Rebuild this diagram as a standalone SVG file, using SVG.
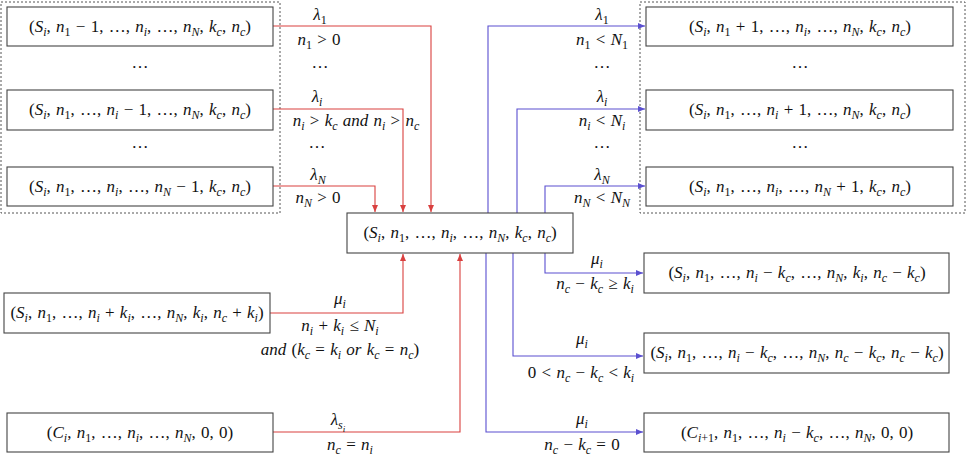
<svg xmlns="http://www.w3.org/2000/svg" width="966" height="460" viewBox="0 0 966 460">
<style>
text{font-family:"Liberation Serif","DejaVu Serif",serif;font-size:17px;fill:#111;text-anchor:middle;word-spacing:1px}
.i{font-style:italic}
.b{font-size:12px;baseline-shift:-3.5px}
.bi{font-size:12px;baseline-shift:-3.5px;font-style:italic}
.bb{font-size:9px;baseline-shift:-7px;font-style:italic}
.box{fill:#fff;stroke:#444;stroke-width:1.1}
.grp{fill:none;stroke:#555;stroke-width:1;stroke-dasharray:2 2}
.r{fill:none;stroke:#d9403f;stroke-width:1.1}
.u{fill:none;stroke:#5a4fd0;stroke-width:1.1}
</style>
<defs>
<marker id="ar" markerUnits="userSpaceOnUse" markerWidth="8" markerHeight="8" refX="7" refY="3" orient="auto"><path d="M0,0 L7,3 L0,6 Z" fill="#d9403f"/></marker>
<marker id="au" markerUnits="userSpaceOnUse" markerWidth="8" markerHeight="8" refX="7" refY="3" orient="auto"><path d="M0,0 L7,3 L0,6 Z" fill="#5a4fd0"/></marker>
</defs>

<rect class="grp" x="1" y="2" width="279" height="211"/>
<rect class="grp" x="640" y="2" width="325" height="211"/>

<g id="connectors">
<path class="r" d="M273,26 H431 V212" marker-end="url(#ar)"/>
<path class="r" d="M273,109 H403 V212" marker-end="url(#ar)"/>
<path class="r" d="M273,186 H375 V212" marker-end="url(#ar)"/>
<path class="r" d="M270,313 H403 V254" marker-end="url(#ar)"/>
<path class="r" d="M273,432 H460 V254" marker-end="url(#ar)"/>
<path class="u" d="M488,213 V26 H645" marker-end="url(#au)"/>
<path class="u" d="M517,213 V109 H645" marker-end="url(#au)"/>
<path class="u" d="M545,213 V186 H645" marker-end="url(#au)"/>
<path class="u" d="M545,253 V273 H643" marker-end="url(#au)"/>
<path class="u" d="M513,253 V356 H643" marker-end="url(#au)"/>
<path class="u" d="M486,253 V432 H643" marker-end="url(#au)"/>
</g>

<g id="labels">
<text x="320" y="20"><tspan class="i">λ</tspan><tspan class="b">1</tspan></text>
<text x="319" y="45"><tspan class="i">n</tspan><tspan class="b">1</tspan> &gt; 0</text>
<text x="320" y="68">…</text>
<text x="317" y="102"><tspan class="i">λ</tspan><tspan class="bi">i</tspan></text>
<text x="356" y="126"><tspan class="i">n</tspan><tspan class="bi">i</tspan> &gt; <tspan class="i">k</tspan><tspan class="bi">c</tspan> <tspan class="i">and n</tspan><tspan class="bi">i</tspan> &gt; <tspan class="i">n</tspan><tspan class="bi">c</tspan></text>
<text x="317" y="148">…</text>
<text x="318" y="180"><tspan class="i">λ</tspan><tspan class="bi">N</tspan></text>
<text x="318" y="203"><tspan class="i">n</tspan><tspan class="bi">N</tspan> &gt; 0</text>

<text x="602" y="20"><tspan class="i">λ</tspan><tspan class="b">1</tspan></text>
<text x="602" y="45"><tspan class="i">n</tspan><tspan class="b">1</tspan> &lt; <tspan class="i">N</tspan><tspan class="b">1</tspan></text>
<text x="602" y="68">…</text>
<text x="602" y="102"><tspan class="i">λ</tspan><tspan class="bi">i</tspan></text>
<text x="602" y="126"><tspan class="i">n</tspan><tspan class="bi">i</tspan> &lt; <tspan class="i">N</tspan><tspan class="bi">i</tspan></text>
<text x="602" y="148">…</text>
<text x="602" y="180"><tspan class="i">λ</tspan><tspan class="bi">N</tspan></text>
<text x="602" y="203"><tspan class="i">n</tspan><tspan class="bi">N</tspan> &lt; <tspan class="i">N</tspan><tspan class="bi">N</tspan></text>

<text x="340" y="304"><tspan class="i">μ</tspan><tspan class="bi">i</tspan></text>
<text x="340" y="331"><tspan class="i">n</tspan><tspan class="bi">i</tspan> + <tspan class="i">k</tspan><tspan class="bi">i</tspan> ≤ <tspan class="i">N</tspan><tspan class="bi">i</tspan></text>
<text x="340" y="355"><tspan class="i">and</tspan> (<tspan class="i">k</tspan><tspan class="bi">c</tspan> = <tspan class="i">k</tspan><tspan class="bi">i</tspan> <tspan class="i">or k</tspan><tspan class="bi">c</tspan> = <tspan class="i">n</tspan><tspan class="bi">c</tspan>)</text>
<text x="338" y="425"><tspan class="i">λ</tspan><tspan class="bi">s</tspan><tspan class="bb">i</tspan></text>
<text x="350" y="450"><tspan class="i">n</tspan><tspan class="bi">c</tspan> = <tspan class="i">n</tspan><tspan class="bi">i</tspan></text>

<text x="597" y="264"><tspan class="i">μ</tspan><tspan class="bi">i</tspan></text>
<text x="595" y="289"><tspan class="i">n</tspan><tspan class="bi">c</tspan> − <tspan class="i">k</tspan><tspan class="bi">c</tspan> ≥ <tspan class="i">k</tspan><tspan class="bi">i</tspan></text>
<text x="582" y="344"><tspan class="i">μ</tspan><tspan class="bi">i</tspan></text>
<text x="581" y="378">0 &lt; <tspan class="i">n</tspan><tspan class="bi">c</tspan> − <tspan class="i">k</tspan><tspan class="bi">c</tspan> &lt; <tspan class="i">k</tspan><tspan class="bi">i</tspan></text>
<text x="582" y="424"><tspan class="i">μ</tspan><tspan class="bi">i</tspan></text>
<text x="582" y="450"><tspan class="i">n</tspan><tspan class="bi">c</tspan> − <tspan class="i">k</tspan><tspan class="bi">c</tspan> = 0</text>

<text x="140" y="68">…</text>
<text x="140" y="148">…</text>
<text x="800" y="68">…</text>
<text x="800" y="148">…</text>
</g>

<g id="nodeL1"><rect class="box" x="7" y="7" width="266" height="39"/>
<text x="140" y="32">(<tspan class="i">S</tspan><tspan class="bi">i</tspan>, <tspan class="i">n</tspan><tspan class="b">1</tspan> − 1, …, <tspan class="i">n</tspan><tspan class="bi">i</tspan>, …, <tspan class="i">n</tspan><tspan class="bi">N</tspan>, <tspan class="i">k</tspan><tspan class="bi">c</tspan>, <tspan class="i">n</tspan><tspan class="bi">c</tspan>)</text></g>
<g id="nodeL2"><rect class="box" x="7" y="90" width="266" height="40"/>
<text x="140" y="115">(<tspan class="i">S</tspan><tspan class="bi">i</tspan>, <tspan class="i">n</tspan><tspan class="b">1</tspan>, …, <tspan class="i">n</tspan><tspan class="bi">i</tspan> − 1, …, <tspan class="i">n</tspan><tspan class="bi">N</tspan>, <tspan class="i">k</tspan><tspan class="bi">c</tspan>, <tspan class="i">n</tspan><tspan class="bi">c</tspan>)</text></g>
<g id="nodeL3"><rect class="box" x="7" y="167" width="266" height="39"/>
<text x="140" y="192">(<tspan class="i">S</tspan><tspan class="bi">i</tspan>, <tspan class="i">n</tspan><tspan class="b">1</tspan>, …, <tspan class="i">n</tspan><tspan class="bi">i</tspan>, …, <tspan class="i">n</tspan><tspan class="bi">N</tspan> − 1, <tspan class="i">k</tspan><tspan class="bi">c</tspan>, <tspan class="i">n</tspan><tspan class="bi">c</tspan>)</text></g>

<g id="nodeR1"><rect class="box" x="646" y="7" width="307" height="39"/>
<text x="800" y="32">(<tspan class="i">S</tspan><tspan class="bi">i</tspan>, <tspan class="i">n</tspan><tspan class="b">1</tspan> + 1, …, <tspan class="i">n</tspan><tspan class="bi">i</tspan>, …, <tspan class="i">n</tspan><tspan class="bi">N</tspan>, <tspan class="i">k</tspan><tspan class="bi">c</tspan>, <tspan class="i">n</tspan><tspan class="bi">c</tspan>)</text></g>
<g id="nodeR2"><rect class="box" x="646" y="90" width="307" height="40"/>
<text x="800" y="115">(<tspan class="i">S</tspan><tspan class="bi">i</tspan>, <tspan class="i">n</tspan><tspan class="b">1</tspan>, …, <tspan class="i">n</tspan><tspan class="bi">i</tspan> + 1, …, <tspan class="i">n</tspan><tspan class="bi">N</tspan>, <tspan class="i">k</tspan><tspan class="bi">c</tspan>, <tspan class="i">n</tspan><tspan class="bi">c</tspan>)</text></g>
<g id="nodeR3"><rect class="box" x="646" y="167" width="307" height="39"/>
<text x="800" y="192">(<tspan class="i">S</tspan><tspan class="bi">i</tspan>, <tspan class="i">n</tspan><tspan class="b">1</tspan>, …, <tspan class="i">n</tspan><tspan class="bi">i</tspan>, …, <tspan class="i">n</tspan><tspan class="bi">N</tspan> + 1, <tspan class="i">k</tspan><tspan class="bi">c</tspan>, <tspan class="i">n</tspan><tspan class="bi">c</tspan>)</text></g>

<g id="nodeCenter"><rect class="box" x="347" y="213" width="226" height="40"/>
<text x="460" y="238">(<tspan class="i">S</tspan><tspan class="bi">i</tspan>, <tspan class="i">n</tspan><tspan class="b">1</tspan>, …, <tspan class="i">n</tspan><tspan class="bi">i</tspan>, …, <tspan class="i">n</tspan><tspan class="bi">N</tspan>, <tspan class="i">k</tspan><tspan class="bi">c</tspan>, <tspan class="i">n</tspan><tspan class="bi">c</tspan>)</text></g>

<g id="nodeArrive"><rect class="box" x="4" y="293" width="266" height="40"/>
<text x="137" y="318">(<tspan class="i">S</tspan><tspan class="bi">i</tspan>, <tspan class="i">n</tspan><tspan class="b">1</tspan>, …, <tspan class="i">n</tspan><tspan class="bi">i</tspan> + <tspan class="i">k</tspan><tspan class="bi">i</tspan>, …, <tspan class="i">n</tspan><tspan class="bi">N</tspan>, <tspan class="i">k</tspan><tspan class="bi">i</tspan>, <tspan class="i">n</tspan><tspan class="bi">c</tspan> + <tspan class="i">k</tspan><tspan class="bi">i</tspan>)</text></g>
<g id="nodeCi"><rect class="box" x="7" y="413" width="266" height="39"/>
<text x="140" y="438">(<tspan class="i">C</tspan><tspan class="bi">i</tspan>, <tspan class="i">n</tspan><tspan class="b">1</tspan>, …, <tspan class="i">n</tspan><tspan class="bi">i</tspan>, …, <tspan class="i">n</tspan><tspan class="bi">N</tspan>, 0, 0)</text></g>

<g id="nodeD1"><rect class="box" x="644" y="253" width="305" height="40"/>
<text x="797" y="278">(<tspan class="i">S</tspan><tspan class="bi">i</tspan>, <tspan class="i">n</tspan><tspan class="b">1</tspan>, …, <tspan class="i">n</tspan><tspan class="bi">i</tspan> − <tspan class="i">k</tspan><tspan class="bi">c</tspan>, …, <tspan class="i">n</tspan><tspan class="bi">N</tspan>, <tspan class="i">k</tspan><tspan class="bi">i</tspan>, <tspan class="i">n</tspan><tspan class="bi">c</tspan> − <tspan class="i">k</tspan><tspan class="bi">c</tspan>)</text></g>
<g id="nodeD2"><rect class="box" x="644" y="333" width="305" height="40"/>
<text x="797" y="358">(<tspan class="i">S</tspan><tspan class="bi">i</tspan>, <tspan class="i">n</tspan><tspan class="b">1</tspan>, …, <tspan class="i">n</tspan><tspan class="bi">i</tspan> − <tspan class="i">k</tspan><tspan class="bi">c</tspan>, …, <tspan class="i">n</tspan><tspan class="bi">N</tspan>, <tspan class="i">n</tspan><tspan class="bi">c</tspan> − <tspan class="i">k</tspan><tspan class="bi">c</tspan>, <tspan class="i">n</tspan><tspan class="bi">c</tspan> − <tspan class="i">k</tspan><tspan class="bi">c</tspan>)</text></g>
<g id="nodeD3"><rect class="box" x="644" y="413" width="305" height="39"/>
<text x="797" y="438">(<tspan class="i">C</tspan><tspan class="bi">i</tspan><tspan class="b">+1</tspan>, <tspan class="i">n</tspan><tspan class="b">1</tspan>, …, <tspan class="i">n</tspan><tspan class="bi">i</tspan> − <tspan class="i">k</tspan><tspan class="bi">c</tspan>, …, <tspan class="i">n</tspan><tspan class="bi">N</tspan>, 0, 0)</text></g>
</svg>
